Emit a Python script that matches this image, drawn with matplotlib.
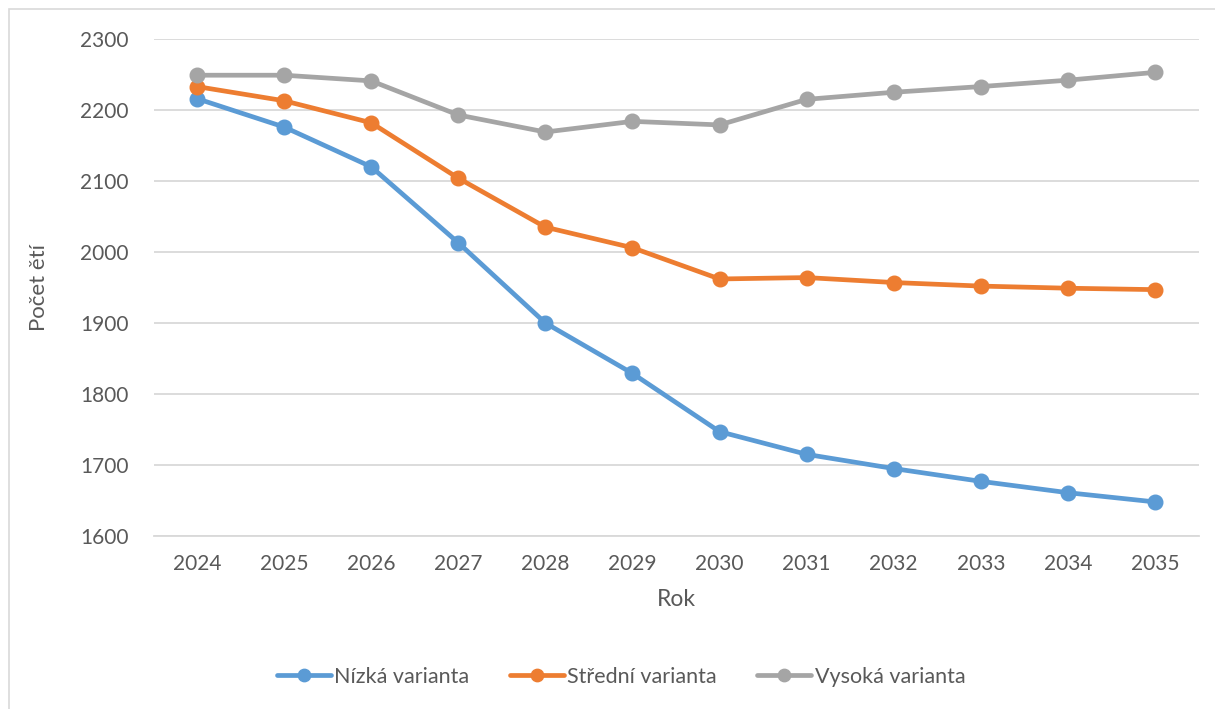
import matplotlib.pyplot as plt
from matplotlib.patches import Rectangle

years = ['2024', '2025', '2026', '2027', '2028', '2029', '2030', '2031', '2032', '2033', '2034', '2035']
nizka = [2216, 2176, 2120, 2013, 1900, 1829, 1747, 1715, 1695, 1677, 1661, 1648]
stredni = [2233, 2213, 2182, 2104, 2035, 2006, 1962, 1964, 1957, 1952, 1949, 1947]
vysoka = [2249, 2249, 2241, 2193, 2169, 2184, 2179, 2215, 2225, 2233, 2242, 2253]
yticks = [1600, 1700, 1800, 1900, 2000, 2100, 2200, 2300]

plt.rcParams['font.family'] = ['Lato', 'DejaVu Sans']
text_col = '#595959'
grid_col = '#d9d9d9'

fig = plt.figure(figsize=(12.15, 7.09), dpi=100)
ax = fig.add_axes([153.5 / 1215, 1 - 536 / 709, 1045 / 1215, 497 / 709])

x = range(len(years))
series = [
    (nizka, '#5B9BD5', 'Nízká varianta'),
    (stredni, '#ED7D31', 'Střední varianta'),
    (vysoka, '#A5A5A5', 'Vysoká varianta'),
]
for vals, col, name in series:
    ax.plot(x, vals, color=col, lw=3.4, marker='o', markersize=10.5,
            label=name, solid_capstyle='round', zorder=3)

ax.set_xlim(-0.5, len(years) - 0.5)
ax.set_ylim(1600, 2300)
ax.set_yticks(yticks)
ax.set_xticks(list(x))
ax.set_xticklabels(years)
ax.grid(axis='y', color=grid_col, lw=1.3, zorder=0)
for s in ['top', 'right', 'left']:
    ax.spines[s].set_visible(False)
ax.spines['bottom'].set_color(grid_col)
ax.spines['bottom'].set_linewidth(1.3)
ax.tick_params(length=0, labelsize=15, colors=text_col)
ax.tick_params(axis='y', pad=18)
ax.tick_params(axis='x', pad=13)

ax.set_xlabel('Rok', fontsize=16.5, color=text_col, labelpad=11)
ax.set_ylabel('Počet ětí', fontsize=16, color=text_col, labelpad=22)

leg = fig.legend(loc='center', bbox_to_anchor=(621 / 1215, 1 - 677 / 709), ncol=3,
                 frameon=False, fontsize=15.5, handlelength=2.5, columnspacing=1.9,
                 handletextpad=0.15, markerscale=0.85)
for t in leg.get_texts():
    t.set_color(text_col)

# outer chart frame
fig.patches.append(Rectangle((9 / 1215, -0.1), 1.2, 1 - 9 / 709 + 0.1,
                             transform=fig.transFigure, fill=False,
                             edgecolor='#d9d9d9', lw=1.2))

fig.savefig('out.png', dpi=100)
